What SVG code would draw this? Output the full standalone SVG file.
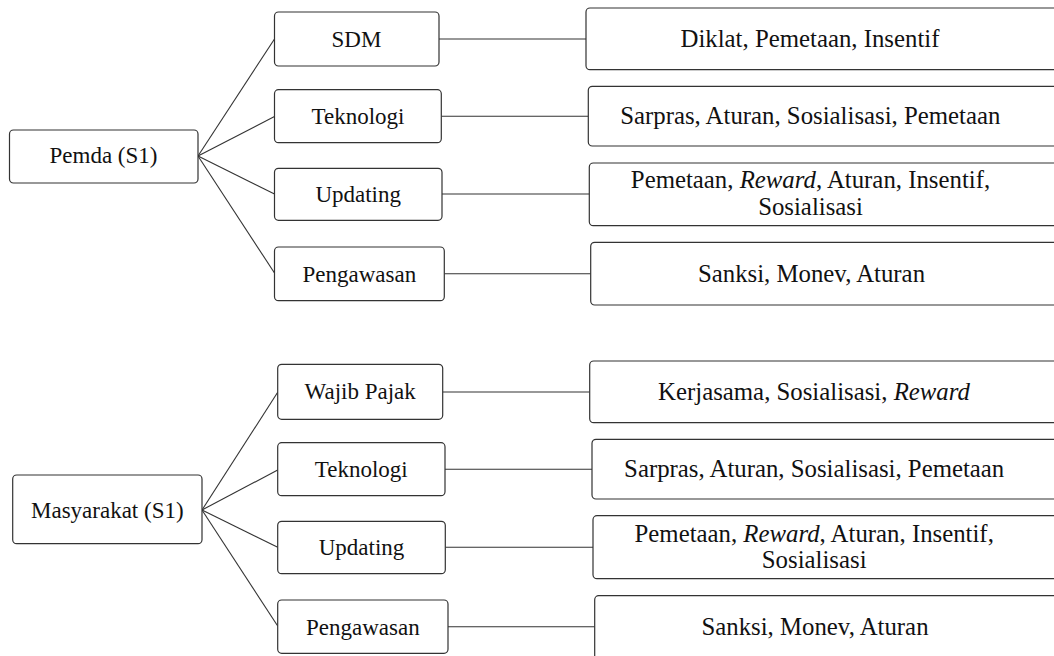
<svg xmlns="http://www.w3.org/2000/svg" width="1054" height="656" viewBox="0 0 1054 656">
<style>
.box{fill:#fff;stroke:#333;stroke-width:1.2}
.con line{stroke:#333;stroke-width:1.1}
text, tspan{font-family:"Liberation Serif","Times New Roman",serif !important;fill:#111;text-anchor:middle}
.l{font-size:23px}
.r{font-size:24.8px}
.i{font-style:italic}
</style>
<rect width="1054" height="656" fill="#fff"/>
<g id="connectors" class="con">
<line x1="198" y1="156" x2="274.5" y2="39"/>
<line x1="198" y1="156" x2="274.5" y2="116.5"/>
<line x1="198" y1="156" x2="274.5" y2="194"/>
<line x1="198" y1="156" x2="274.5" y2="273"/>
<line x1="439" y1="39" x2="586" y2="39"/>
<line x1="441.3" y1="116.3" x2="588.3" y2="116.3"/>
<line x1="442" y1="194" x2="589.3" y2="194"/>
<line x1="444.3" y1="273.7" x2="590.7" y2="273.7"/>
<line x1="202" y1="510" x2="277.7" y2="392.3"/>
<line x1="202" y1="510" x2="277.7" y2="470"/>
<line x1="202" y1="510" x2="277.7" y2="547.3"/>
<line x1="202" y1="510" x2="277.7" y2="626"/>
<line x1="442.7" y1="392" x2="589.7" y2="392"/>
<line x1="445" y1="469.3" x2="592" y2="469.3"/>
<line x1="445.3" y1="547.3" x2="593" y2="547.3"/>
<line x1="448" y1="626.7" x2="594.7" y2="626.7"/>
</g>
<g id="pemda"><rect class="box" x="9.5" y="130" width="188.5" height="53" rx="4"/><text class="l" font-family="Liberation Serif" x="103.5" y="163.3">Pemda (S1)</text></g>
<g id="sdm"><rect class="box" x="274.5" y="12" width="164.5" height="54" rx="4"/><text class="l" font-family="Liberation Serif" x="356.5" y="46.7">SDM</text></g>
<g id="teknologi1"><rect class="box" x="274.5" y="89.7" width="166.8" height="53" rx="4"/><text class="l" font-family="Liberation Serif" x="358" y="124">Teknologi</text></g>
<g id="updating1"><rect class="box" x="274.5" y="168.3" width="167.5" height="52" rx="4"/><text class="l" font-family="Liberation Serif" x="358.2" y="201.7">Updating</text></g>
<g id="pengawasan1"><rect class="box" x="274.5" y="247" width="169.8" height="53.7" rx="4"/><text class="l" font-family="Liberation Serif" x="359.4" y="281.7">Pengawasan</text></g>
<g id="r1"><rect class="box" x="586" y="8" width="480" height="61.7" rx="4"/><text class="r" font-family="Liberation Serif" x="810" y="46.7">Diklat, Pemetaan, Insentif</text></g>
<g id="r2"><rect class="box" x="588.3" y="86.3" width="480" height="59.7" rx="4"/><text class="r" font-family="Liberation Serif" x="810.3" y="124">Sarpras, Aturan, Sosialisasi, Pemetaan</text></g>
<g id="r3"><rect class="box" x="589.3" y="163" width="480" height="62.7" rx="4"/><text class="r" font-family="Liberation Serif" x="810.5" y="188.3">Pemetaan, <tspan class="i">Reward</tspan>, Aturan, Insentif,</text><text class="r" font-family="Liberation Serif" x="810.5" y="215">Sosialisasi</text></g>
<g id="r4"><rect class="box" x="590.7" y="242.3" width="480" height="62.7" rx="4"/><text class="r" font-family="Liberation Serif" x="811.5" y="281.7">Sanksi, Monev, Aturan</text></g>
<g id="masyarakat"><rect class="box" x="12.7" y="475" width="189.3" height="68.7" rx="4"/><text class="l" font-family="Liberation Serif" x="107.3" y="518.3">Masyarakat (S1)</text></g>
<g id="wajibpajak"><rect class="box" x="277.7" y="364.3" width="165" height="55" rx="4"/><text class="l" font-family="Liberation Serif" x="360.2" y="399.3">Wajib Pajak</text></g>
<g id="teknologi2"><rect class="box" x="277.7" y="442.7" width="167.3" height="53" rx="4"/><text class="l" font-family="Liberation Serif" x="361.3" y="476.7">Teknologi</text></g>
<g id="updating2"><rect class="box" x="277.7" y="521.3" width="167.6" height="52.4" rx="4"/><text class="l" font-family="Liberation Serif" x="361.5" y="555">Updating</text></g>
<g id="pengawasan2"><rect class="box" x="277.7" y="600" width="170.3" height="53.3" rx="4"/><text class="l" font-family="Liberation Serif" x="362.8" y="635">Pengawasan</text></g>
<g id="r5"><rect class="box" x="589.7" y="361" width="480" height="61.7" rx="4"/><text class="r" font-family="Liberation Serif" x="814" y="400">Kerjasama, Sosialisasi, <tspan class="i">Reward</tspan></text></g>
<g id="r6"><rect class="box" x="592" y="439.3" width="480" height="59.7" rx="4"/><text class="r" font-family="Liberation Serif" x="814.2" y="476.7">Sarpras, Aturan, Sosialisasi, Pemetaan</text></g>
<g id="r7"><rect class="box" x="593" y="515.7" width="480" height="63" rx="4"/><text class="r" font-family="Liberation Serif" x="814.2" y="542.3">Pemetaan, <tspan class="i">Reward</tspan>, Aturan, Insentif,</text><text class="r" font-family="Liberation Serif" x="814.2" y="568.3">Sosialisasi</text></g>
<g id="r8"><rect class="box" x="594.7" y="595.7" width="480" height="80" rx="4"/><text class="r" font-family="Liberation Serif" x="815" y="635">Sanksi, Monev, Aturan</text></g>
</svg>
